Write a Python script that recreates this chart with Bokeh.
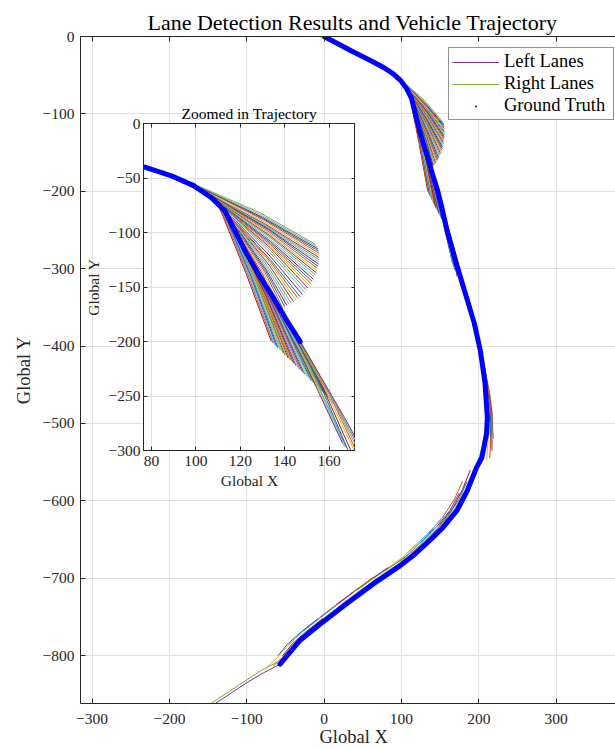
from bokeh.plotting import figure
from bokeh.models import (Range1d, LinearAxis, FixedTicker, CustomJSTickFormatter,
                          Legend, LegendItem, ColumnDataSource, GridBox, Title)
from bokeh.embed import file_html
from bokeh.resources import INLINE

# ---------------- data ----------------
# ground truth vehicle trajectory
gt_x = [0, 19, 38, 58, 77, 89, 99, 107, 113, 117, 123, 129, 135, 141, 147,
        152, 159, 170, 182, 194, 202, 208, 211, 210, 204, 197, 185, 172, 154,
        141, 116, 98, 64, 29, -5, -31, -57]
gt_y = [0, -10, -20, -30, -40, -48, -57, -68, -80, -96, -120, -141, -160, -181, -200,
        -220, -251, -290, -330, -370, -406, -448, -492, -513, -544, -557, -587, -612, -634,
        -647, -670, -684, -707, -733, -759, -780, -811]
inset_gt = slice(4, 15)          # part of the trajectory shown in the inset

# lane detections: one (left lane, right lane) pair per frame
early_lanes = [
    ([(0, 0), (25, -13), (50, -26), (75, -39)], [(0, -2), (25, -15.5), (50, -28.5), (75, -41.5)]),
    ([(25, -12.5), (50, -25.5), (75, -38.5), (100, -53)], [(25, -15), (50, -28), (75, -41.5), (100, -58)]),
]
fan_a_lanes = [
    ([(78, -41), (103, -59), (129, -82), (154, -111)], [(78.5, -41.5), (103.5, -60), (129.5, -84), (154.5, -113)]),
    ([(79, -42), (104, -61), (130, -86), (155, -115)], [(80, -42.5), (105, -62), (130.5, -87.5), (155.3, -117)]),
    ([(81, -43), (106, -63), (131, -89), (155.5, -119)], [(82, -43.8), (106.5, -64.5), (131, -90.5), (155.5, -121)]),
    ([(83, -44.5), (107, -66), (131, -92), (155.5, -123)], [(84.5, -45.5), (108, -67), (131.5, -93.5), (155.5, -125)]),
    ([(86, -46.5), (109, -68), (132, -95), (155.5, -127)], [(87, -47), (109.5, -69), (132.5, -96.5), (155.3, -129)]),
    ([(88, -47.5), (110, -70), (133, -98), (155, -131)], [(89, -48.3), (110.8, -71.3), (133, -99.5), (154.8, -133)]),
    ([(90, -49), (111.5, -72.5), (133, -101), (154.5, -135)], [(91, -50), (112, -73.8), (133.3, -102.8), (154.3, -137)]),
    ([(92, -51), (112.5, -75), (133.5, -104.5), (154, -139)], [(93, -51.8), (113, -76.3), (133.5, -106.3), (153.5, -141)]),
    ([(94, -52.5), (113.5, -77.5), (133.5, -108), (153, -143)], [(95, -53.5), (114, -78.8), (133.5, -109.5), (152.5, -145)]),
    ([(96, -54.5), (114.5, -80), (133.5, -111), (152, -147)], [(97, -55.3), (115, -81.3), (133.5, -112.5), (151.3, -149)]),
    ([(98, -56), (115.5, -82.5), (133.5, -114), (150.5, -151)], [(99, -57), (116, -83.8), (133.3, -115.8), (149.8, -153)]),
    ([(100, -58), (116.5, -85), (133, -117.5), (149, -155)], [(100.8, -59), (117.8, -89), (133.5, -121.8), (148, -157)]),
    ([(101.5, -60), (119, -93), (134, -126), (147, -159)], [(102.3, -61), (119.3, -94.3), (133.8, -127.3), (146, -160.5)]),
    ([(103, -62), (119.5, -95.5), (133.5, -128.5), (145, -162)], [(103.8, -63), (119.8, -96.5), (133, -130), (144, -163.5)]),
    ([(104.5, -64), (120, -97.5), (132.5, -131.5), (143, -165)], [(105.3, -65), (120, -98.8), (132, -132.5), (142, -166)]),
    ([(106, -66), (120, -100), (131.5, -133.5), (141, -167)], [(106.8, -67.5), (120, -101.3), (131.3, -134.8), (140, -168)]),
    ([(107.5, -69), (120, -102.5), (131, -136), (139, -169)], [(108.3, -70.5), (120, -103.8), (130.5, -137), (138, -170)]),
    ([(109, -72), (120, -105), (130, -138), (137, -171)], [(109.5, -73), (120.5, -107), (130, -140), (136, -173)]),
]
fan_b_lanes = [
    ([(111, -75), (124, -139), (135.5, -203)], [(110, -74), (122.5, -137), (134, -200)]),
    ([(111.5, -76.5), (124.8, -140.5), (136.3, -204.5)], [(110.5, -74.5), (123.3, -138), (134.8, -201.5)]),
    ([(113, -80), (126.5, -144.5), (138.5, -209)], [(112, -78), (125.5, -142), (137, -206)]),
    ([(113.5, -82), (127.3, -146.3), (139.3, -210.5)], [(112.5, -79), (126, -143.3), (137.8, -207.5)]),
    ([(115, -88), (129, -151.5), (141.5, -215)], [(114, -84), (128, -148), (140, -212)]),
    ([(115.5, -90), (129.8, -153.3), (142.3, -216.5)], [(114.5, -86), (128.5, -149.8), (140.8, -213.5)]),
    ([(117, -96), (132, -159), (145, -222)], [(116, -92), (130.5, -155), (143, -218)]),
    ([(117.5, -98), (132.8, -161), (146, -224)], [(116.5, -94), (131.3, -157), (144, -220)]),
    ([(119, -104), (135, -167), (149, -230)], [(118, -100), (133.5, -163), (147, -226)]),
    ([(119.5, -106), (135.8, -169), (150, -232)], [(118.5, -102), (134.3, -165), (148, -228)]),
    ([(121, -112), (138, -175), (153, -238)], [(120, -108), (136.5, -171), (151, -234)]),
    ([(121.5, -114), (138.8, -177), (154, -240)], [(120.5, -110), (137.3, -173), (152, -236)]),
    ([(123, -120), (141, -183), (157, -246)], [(122, -116), (139.5, -179), (155, -242)]),
    ([(123.8, -122.5), (141.8, -185.3), (158, -248)], [(122.5, -118), (140.3, -181), (156, -244)]),
    ([(126, -130), (144, -192), (160.5, -254)], [(124.5, -125), (142.5, -187.5), (159, -250)]),
    ([(127, -132), (145, -195), (161.5, -257)], [(125.3, -127.5), (143.3, -189.8), (159.8, -252)]),
]
long_lanes = [
    ([(128, -137), (149, -217), (167, -297)], [(127, -134), (148, -215), (166, -293)]),
    ([(131, -147), (152, -226), (168, -298)], [(129.5, -142), (150.5, -221), (167.5, -297)]),
    ([(134.5, -158), (156, -237), (172, -310)], [(133, -153), (154, -230), (169, -302)]),
    ([(138, -170), (160, -248), (178, -325)], [(136, -163), (158, -243), (176, -320)]),
    ([(142, -184), (165, -265), (186, -345)], [(140, -177), (162.5, -257), (182, -335)]),
    ([(147, -200), (169, -280), (192, -362)], [(145, -193), (167, -270), (189, -352)]),
]
mid_lanes = [
    ([(152, -218), (172, -290), (192, -365), (206, -425)], [(150, -212), (170, -285), (190, -360), (203, -420)]),
    ([(167, -274), (187, -345), (205, -415), (215, -475)], [(165, -268), (185, -340), (202, -410), (212, -470)]),
    ([(185, -338), (203, -405), (215, -465), (219, -520)], [(182, -330), (200, -398), (212, -460), (217, -515)]),
    ([(194, -372), (208, -430), (217, -485), (217, -535)], [(191, -365), (206, -425), (215, -480), (215, -530)]),
    ([(203, -410), (212, -455), (217, -500), (214, -545)], [(200, -398), (210, -450), (214, -500), (210, -548)]),
    ([(209, -458), (213, -495), (209, -530), (201, -550)], [(208, -448), (211, -490), (206, -525), (198, -552)]),
]
low_lanes = [
    ([(193, -560), (183, -585), (170, -610), (152.5, -632)], [(189, -560), (179, -585), (166, -610), (148.5, -632)]),
    ([(184.8, -575), (174.3, -598), (158.8, -622), (141, -642)], [(178.8, -575), (168.3, -598), (152.8, -622), (135, -642)]),
    ([(179.5, -590), (168, -612), (150, -634), (129, -655)], [(174.5, -590), (163, -612), (145, -634), (124, -655)]),
    ([(163.5, -615), (148, -634), (129.6, -652), (112.2, -668)], [(157.5, -615), (142, -634), (123.6, -652), (106.2, -668)]),
    ([(147, -636), (128, -655), (111, -672), (84, -690)], [(142, -636), (123, -655), (106, -672), (79, -690)]),
    ([(127.3, -655), (108.4, -672), (87.1, -688), (63.4, -704)], [(121.3, -655), (102.4, -672), (81.1, -688), (57.4, -704)]),
    ([(116, -668), (94, -684), (70, -700), (48, -716)], [(110, -668), (88, -684), (64, -700), (42, -716)]),
    ([(89, -686), (65.4, -702), (43.2, -718), (21.7, -734)], [(83, -686), (59.4, -702), (37.2, -718), (15.7, -734)]),
    ([(69, -700), (47, -716), (24, -733), (2, -750)], [(62, -700), (40, -716), (17, -733), (-5, -750)]),
    ([(44.2, -718), (21.4, -735), (-0.8, -752), (-21.1, -768)], [(38.2, -718), (15.4, -735), (-6.8, -752), (-27.1, -768)]),
    ([(22, -735), (0, -752), (-21.5, -769), (-39, -785)], [(16, -735), (-6, -752), (-27.5, -769), (-45, -785)]),
    ([(-1.8, -752), (-22.1, -768), (-40.4, -784), (-53.8, -800)], [(-7.8, -752), (-28.1, -768), (-46.4, -784), (-59.8, -800)]),
    ([(-22.5, -770), (-39, -785), (-52, -800), (-66, -814)], [(-28.5, -770), (-45, -785), (-58, -800), (-76, -817)]),
]
final_lanes = [
    ([(-57, -811), (-80, -823), (-100, -835), (-141, -862)], [(-60, -808), (-82, -819.5), (-102, -832.5), (-146, -861.5)]),
]

main_x_ticks = [-300, -200, -100, 0, 100, 200, 300]
main_y_ticks = [0, -100, -200, -300, -400, -500, -600, -700, -800]
inset_x_ticks = [80, 100, 120, 140, 160]
inset_y_ticks = [0, -50, -100, -150, -200, -250, -300]

# ---------------- styling ----------------
SERIF = "Liberation Serif"
AX = "#262626"
GRID = "#E0E0E0"
MATLAB_COLORS = ["#0072BD", "#D95319", "#EDB120", "#7E2F8E", "#77AC30", "#4DBEEE", "#A2142F"]
GT_COLOR = "#0000FF"

sections = [(early_lanes, False), (fan_a_lanes, True), (fan_b_lanes, True), (long_lanes, True),
            (mid_lanes, False), (low_lanes, False), (final_lanes, False)]

n_frames = sum(len(s[0]) for s in sections)
color_shift = (3 - 2 * (n_frames - 1)) % 7     # last left lane purple, last right lane green

all_xs, all_ys, all_cols = [], [], []
in_xs, in_ys, in_cols = [], [], []
n = 0
last_left = last_right = 0
for frames, show_in_inset in sections:
    for left, right in frames:
        for pts, side in ((left, "L"), (right, "R")):
            xs = [pt[0] for pt in pts]
            ys = [pt[1] for pt in pts]
            col = MATLAB_COLORS[(n + color_shift) % 7]
            if side == "L":
                last_left = n
            else:
                last_right = n
            all_xs.append(xs); all_ys.append(ys); all_cols.append(col)
            if show_in_inset:
                in_xs.append(xs); in_ys.append(ys); in_cols.append(col)
            n += 1

minus_fmt = CustomJSTickFormatter(code="return (tick < 0 ? '\\u2212' : '') + Math.abs(tick);")
blank_fmt = CustomJSTickFormatter(code="return '';")


def style_axis(ax, tick_size, tick_in, label_size):
    ax.axis_line_color = AX
    ax.axis_line_width = 1
    ax.major_tick_line_color = AX
    ax.major_tick_in = tick_in
    ax.major_tick_out = 0
    ax.minor_tick_line_color = None
    ax.major_label_text_font = SERIF
    ax.major_label_text_font_size = tick_size
    ax.major_label_text_color = AX
    ax.axis_label_text_font = SERIF
    ax.axis_label_text_font_style = "normal"
    ax.axis_label_text_font_size = label_size
    ax.axis_label_text_color = AX


def box_axis(ticks, tick_in):
    a = LinearAxis(ticker=FixedTicker(ticks=ticks), formatter=blank_fmt)
    style_axis(a, "0px", tick_in, "0px")
    a.major_label_standoff = 0
    return a


def style_title(t, text, size, offset, standoff, color="#000000", valign="bottom"):
    t.text = text
    t.align = "left"
    t.offset = offset
    t.standoff = standoff
    t.vertical_align = valign
    t.text_font = SERIF
    t.text_font_style = "normal"
    t.text_font_size = size
    t.text_color = color


BORDERS = dict(min_border_left=80, min_border_right=0, min_border_top=36, min_border_bottom=46)

# ---------------- main figure ----------------
p = figure(width=615, height=749,
           x_range=Range1d(-315, 376.7), y_range=Range1d(-861.8, 0),
           output_backend="svg", toolbar_location=None, **BORDERS)
p.background_fill_color = "white"
p.border_fill_color = "white"
p.outline_line_color = None

for ax in p.xaxis:
    style_axis(ax, "15.5px", 5, "18.5px")
    ax.ticker = FixedTicker(ticks=main_x_ticks)
    ax.formatter = minus_fmt
    ax.major_label_standoff = 10
for ax in p.yaxis:
    style_axis(ax, "15.5px", 5, "18.5px")
    ax.ticker = FixedTicker(ticks=main_y_ticks)
    ax.formatter = minus_fmt
    ax.axis_label = "Global Y"
    ax.major_label_standoff = 6
    ax.axis_label_standoff = 6
p.add_layout(box_axis(main_x_ticks, 5), "above")

p.xgrid.grid_line_color = GRID
p.ygrid.grid_line_color = GRID

style_title(p.title, "Lane Detection Results and Vehicle Trajectory", "22px", 67, 3)
xlabel = Title()
style_title(xlabel, "Global X", "18.5px", 239, 0, color=AX, valign="top")
p.add_layout(xlabel, "below")

lane_src = ColumnDataSource(dict(xs=all_xs, ys=all_ys, color=all_cols))
r_lanes = p.multi_line("xs", "ys", source=lane_src, line_color="color", line_width=1)
p.line(gt_x, gt_y, line_color=GT_COLOR, line_width=5, line_cap="round", line_join="round")
r_gt = p.scatter(gt_x, gt_y, marker="dot", size=12, line_color=GT_COLOR, fill_color=GT_COLOR)

legend = Legend(items=[
    LegendItem(label="Left Lanes", renderers=[r_lanes], index=last_left),
    LegendItem(label="Right Lanes", renderers=[r_lanes], index=last_right),
    LegendItem(label="Ground Truth", renderers=[r_gt]),
], location=(368, 583))
legend.label_text_font = SERIF
legend.label_text_font_size = "18.5px"
legend.label_text_color = "#000000"
legend.border_line_color = AX
legend.border_line_width = 1
legend.background_fill_color = "white"
legend.background_fill_alpha = 1
legend.padding = 3
legend.margin = 0
legend.spacing = 1
legend.glyph_width = 47
legend.glyph_height = 20
legend.label_height = 20
legend.label_width = 106
legend.label_standoff = 5
p.add_layout(legend)

# ---------------- inset figure ----------------
q = figure(width=80 + 212, height=36 + 327 + 46,
           x_range=Range1d(76.4, 171.9), y_range=Range1d(-300, 0),
           output_backend="svg", toolbar_location=None, **BORDERS)
q.background_fill_color = "white"
q.border_fill_color = None
q.outline_line_color = AX
q.outline_line_width = 1

for ax in q.xaxis:
    style_axis(ax, "15.5px", 4, "15.5px")
    ax.ticker = FixedTicker(ticks=inset_x_ticks)
    ax.axis_label = "Global X"
    ax.major_label_standoff = 5
    ax.axis_label_standoff = 3
for ax in q.yaxis:
    style_axis(ax, "15.5px", 4, "15.5px")
    ax.ticker = FixedTicker(ticks=inset_y_ticks)
    ax.formatter = minus_fmt
    ax.axis_label = "Global Y"
    ax.major_label_standoff = 3
    ax.axis_label_standoff = 4
q.add_layout(box_axis(inset_x_ticks, 4), "above")
q.add_layout(box_axis(inset_y_ticks, 4), "right")

q.xgrid.grid_line_color = GRID
q.ygrid.grid_line_color = GRID

style_title(q.title, "Zoomed in Trajectory", "15.5px", 38, 3)

inset_src = ColumnDataSource(dict(xs=in_xs, ys=in_ys, color=in_cols))
q.multi_line("xs", "ys", source=inset_src, line_color="color", line_width=1)
q.line(gt_x[inset_gt], gt_y[inset_gt], line_color=GT_COLOR, line_width=5,
       line_cap="round", line_join="round")

q.margin = (87, 0, 0, 63)

layout = GridBox(children=[(p, 0, 0), (q, 0, 0)])

open("out.html", "w").write(file_html(layout, INLINE))
